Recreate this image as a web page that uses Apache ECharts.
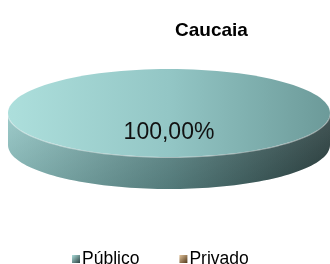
<!DOCTYPE html>
<html>
<head>
<meta charset="utf-8">
<script src="https://cdn.jsdelivr.net/npm/echarts@6/dist/echarts.min.js"></script>
<style>
  html, body { margin: 0; padding: 0; background: #fff; }
  #chart { width: 330px; height: 264px; }
</style>
</head>
<body>
<div id="chart"></div>
<script>
const chartTitle = 'Caucaia';
const categories = ['Público', 'Privado'];
const values = [100, 0];

const total = values.reduce((a, b) => a + b, 0);
const starts = [];
let acc = 0;
values.forEach(v => { starts.push(acc); acc += v; });

// light / mid / dark per slice
const topColors = [
  ['#addfdc', '#93c6c5', '#6c9a99'],
  ['#e3c49c', '#c29a68', '#8c6438']
];
const sideColors = [
  ['#93c8c7', '#5f8b8b', '#2b4141'],
  ['#c9a070', '#8f6a3f', '#4f3618']
];
const FONT = '"Liberation Sans", Arial, sans-serif';

const cx = 169, cy = 113, rx = 161, ry = 44, depth = 32;

function hGrad(cols) {
  return new echarts.graphic.LinearGradient(cx - rx, 0, cx + rx, 0, [
    { offset: 0, color: cols[0] },
    { offset: 0.5, color: cols[1] },
    { offset: 1, color: cols[2] }
  ], true);
}

function renderSlice(params, api) {
  const value = api.value(0), start = api.value(1), sum = api.value(2);
  if (!value) return;
  const idx = params.seriesIndex;
  const a0 = start / sum * 2 * Math.PI;
  const a1 = (start + value) / sum * 2 * Math.PI;
  const pt = (t, dy) => [cx + rx * Math.sin(t), cy - ry * Math.cos(t) + (dy || 0)];
  const n = 90;
  const children = [];

  // front wall
  const s0 = Math.max(a0, Math.PI / 2), s1 = Math.min(a1, 3 * Math.PI / 2);
  if (s1 > s0) {
    const pts = [], edge = [];
    for (let i = 0; i <= n; i++) { const p = pt(s0 + (s1 - s0) * i / n); pts.push(p); edge.push(p); }
    for (let i = n; i >= 0; i--) pts.push(pt(s0 + (s1 - s0) * i / n, depth));
    children.push({ type: 'polygon', shape: { points: pts }, style: { fill: hGrad(sideColors[idx]) } });
    children.push({
      type: 'polygon', shape: { points: pts },
      style: {
        fill: new echarts.graphic.LinearGradient(0, cy - 10, 0, cy + ry + depth, [
          { offset: 0, color: 'rgba(255,255,255,0.15)' },
          { offset: 1, color: 'rgba(0,0,0,0.12)' }
        ], true)
      }
    });
    children.push({ type: 'polyline', shape: { points: edge }, style: { stroke: 'rgba(255,255,255,0.45)', lineWidth: 2, fill: null } });
  }

  // top face
  const topFill = hGrad(topColors[idx]);
  if (value >= sum) {
    children.push({ type: 'ellipse', shape: { cx: cx, cy: cy, rx: rx, ry: ry }, style: { fill: topFill } });
  } else {
    const pts = [[cx, cy]];
    for (let i = 0; i <= n; i++) pts.push(pt(a0 + (a1 - a0) * i / n));
    children.push({ type: 'polygon', shape: { points: pts }, style: { fill: topFill } });
  }

  // label
  const mid = (a0 + a1) / 2;
  const lp = [cx + rx * 0.45 * Math.sin(mid), cy - ry * 0.45 * Math.cos(mid)];
  children.push({
    type: 'text', x: lp[0], y: lp[1],
    style: {
      text: (value / sum * 100).toFixed(2).replace('.', ',') + '%',
      fontSize: 23, fontFamily: FONT, fill: '#111',
      align: 'center', verticalAlign: 'middle'
    }
  });
  return { type: 'group', children: children };
}

const chart = echarts.init(document.getElementById('chart'));
chart.setOption({
  animation: false,
  title: {
    text: chartTitle,
    left: 170, top: 16,
    textStyle: { fontSize: 19, fontWeight: 'bold', fontFamily: FONT, color: '#000' }
  },
  legend: {
    data: categories,
    top: 245, left: 67,
    icon: 'rect', itemWidth: 8, itemHeight: 8, itemGap: 40,
    textStyle: { fontSize: 17.5, fontFamily: FONT, color: '#000', padding: [0, 0, 0, -3] }
  },
  series: categories.map((name, i) => ({
    type: 'custom',
    name: name,
    coordinateSystem: 'none',
    renderItem: renderSlice,
    itemStyle: {
      color: new echarts.graphic.LinearGradient(0, 0, 1, 1, [
        { offset: 0, color: topColors[i][0] },
        { offset: 1, color: sideColors[i][2] }
      ])
    },
    data: [[values[i], starts[i], total]]
  }))
});
</script>
</body>
</html>
